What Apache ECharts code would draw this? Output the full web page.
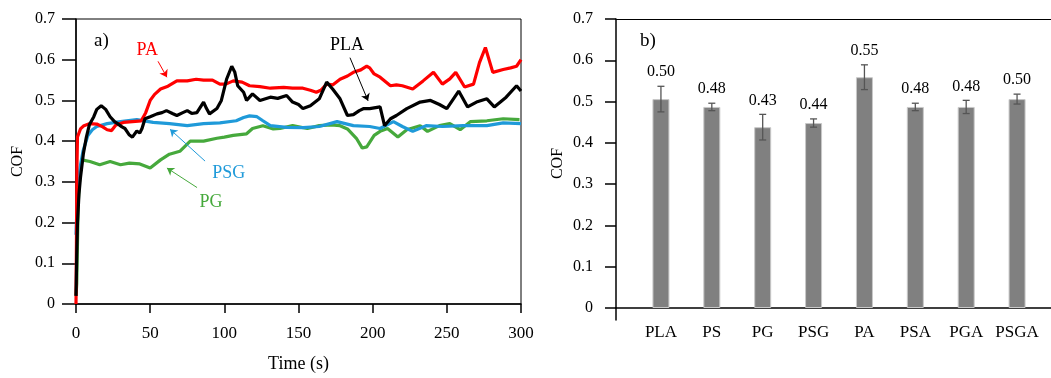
<!DOCTYPE html>
<html>
<head>
<meta charset="utf-8">
<script src="https://cdn.jsdelivr.net/npm/echarts/dist/echarts.min.js"></script>
<style>
  html, body { margin: 0; padding: 0; background: #fff; }
  #chart { width: 1051px; height: 378px; }
</style>
</head>
<body>
<div id="chart"></div>
<script>
// ---- a) coefficient of friction vs sliding time, [time (s), COF] ----
const cofPA = [
  [0,0],[0.3,0.15],[0.6,0.33],[1,0.41],[2,0.42],[3,0.43],[5,0.437],[9,0.443],[14,0.442],[18,0.435],
  [21,0.428],[24,0.426],[27,0.44],[32,0.446],[38,0.448],[44,0.45],[47,0.47],[50,0.5],[53,0.515],
  [57,0.528],[62,0.535],[68,0.548],[75,0.548],[81,0.552],[86,0.55],[92,0.55],[97,0.54],[101,0.54],
  [106,0.548],[112,0.545],[117,0.536],[124,0.534],[131,0.53],[140,0.532],[146,0.53],[153,0.53],
  [158,0.525],[162,0.52],[165,0.525],[169,0.54],[173,0.538],[178,0.552],[183,0.56],[187,0.569],
  [192,0.575],[196,0.584],[198,0.58],[201,0.565],[205,0.557],[212,0.536],[216,0.538],[220,0.536],
  [227,0.528],[234,0.548],[241,0.569],[247,0.54],[252,0.553],[256,0.569],[262,0.533],[268,0.54],
  [272,0.593],[276,0.63],[281,0.569],[288,0.576],[293,0.58],[297,0.584],[300,0.6]
];
const cofPLA = [
  [0,0.02],[0.5,0.12],[1,0.2],[2,0.27],[3,0.31],[5,0.37],[7,0.41],[9,0.44],[12,0.46],[14,0.478],
  [17,0.487],[20,0.478],[23,0.46],[26,0.448],[28,0.443],[31,0.435],[33,0.431],[36,0.415],[38,0.41],
  [41,0.425],[43,0.42],[44.5,0.431],[46.5,0.455],[50,0.46],[54.6,0.467],[58,0.47],[61,0.475],
  [65,0.468],[68,0.463],[72,0.47],[75,0.475],[78,0.468],[81.5,0.47],[86,0.496],[88,0.48],[90,0.467],
  [95,0.48],[98,0.5],[101.5,0.552],[105,0.584],[107,0.57],[109,0.536],[113,0.52],[115,0.5],
  [119,0.516],[124,0.5],[131,0.508],[136,0.505],[142,0.512],[146,0.496],[150,0.49],[153,0.48],
  [158,0.487],[164,0.504],[169,0.545],[173,0.528],[178,0.504],[183,0.463],[187,0.465],[191,0.475],
  [194,0.48],[198,0.48],[205,0.484],[208,0.438],[212,0.455],[216,0.463],[223,0.48],[232,0.496],
  [239,0.5],[245,0.49],[250,0.48],[258,0.523],[264,0.484],[270,0.496],[277,0.504],[282,0.484],
  [290,0.508],[297,0.536],[300,0.523]
];
const cofPSG = [
  [0,0.17],[0.5,0.22],[1,0.27],[2,0.31],[2.7,0.334],[4.7,0.375],[8,0.414],[11,0.428],[14,0.436],
  [21,0.443],[30,0.448],[41,0.453],[52,0.446],[63,0.443],[75,0.438],[86,0.443],[97,0.445],
  [108,0.45],[113,0.458],[117,0.462],[122,0.46],[126,0.45],[131,0.438],[142,0.434],[153,0.433],
  [164,0.436],[176,0.448],[187,0.438],[198,0.436],[205,0.431],[214,0.448],[220,0.436],[227,0.424],
  [236,0.438],[247,0.436],[261,0.438],[277,0.438],[288,0.445],[300,0.443]
];
const cofPG = [
  [0,0.02],[0.5,0.05],[1,0.15],[1.5,0.25],[2.5,0.31],[4,0.354],[9.4,0.35],[16,0.342],[23,0.35],
  [30,0.342],[36,0.346],[43,0.344],[50,0.334],[57,0.354],[63,0.368],[70,0.375],[77,0.4],[86,0.4],
  [95,0.407],[100,0.41],[106,0.414],[115,0.418],[119,0.431],[126,0.438],[133,0.43],[137.5,0.431],
  [146,0.438],[156,0.431],[164,0.438],[172,0.44],[178,0.438],[183,0.43],[189,0.407],[193,0.383],
  [196,0.386],[201,0.414],[205,0.424],[210,0.431],[217,0.41],[223,0.428],[232,0.438],[237,0.424],
  [245,0.438],[252,0.443],[259,0.428],[266,0.448],[277,0.45],[288,0.455],[299,0.453]
];

// ---- b) mean COF with standard deviation per material ----
const materials = ['PLA', 'PS', 'PG', 'PSG', 'PA', 'PSA', 'PGA', 'PSGA'];
const meanCOF   = [0.506, 0.487, 0.438, 0.448, 0.559, 0.487, 0.487, 0.506];
const sdCOF     = [0.031, 0.009, 0.031, 0.010, 0.030, 0.009, 0.016, 0.012];

const cofTicks = [0, 0.1, 0.2, 0.3, 0.4, 0.5, 0.6, 0.7];

const FONT = 'Liberation Serif';
const RED = '#ff0000', BLACK = '#000000', BLUE = '#1f9ad9', GREEN = '#46a93c';

// one curve plus its callout (arrow + name) placed in time/COF coordinates
function curve(name, data, color, arrowFrom, arrowTo, textAt) {
  return {
    type: 'line', name, data, xAxisIndex: 0, yAxisIndex: 0,
    showSymbol: false, symbol: 'none', silent: true, animation: false,
    lineStyle: { color, width: 3.2 },
    markLine: {
      silent: true, animation: false,
      symbol: ['none', 'arrow'], symbolSize: 7,
      lineStyle: { color, width: 1, type: 'solid' },
      label: { show: false },
      data: [[{ coord: arrowFrom }, { coord: arrowTo }]]
    },
    markPoint: {
      silent: true, animation: false,
      symbol: 'circle', symbolSize: 0,
      label: { show: true, position: 'inside', formatter: name, color,
               fontFamily: FONT, fontSize: 18 },
      data: [{ coord: textAt }]
    }
  };
}

const errData = materials.map((m, i) => [i, meanCOF[i], sdCOF[i]]);

const option = {
  animation: false,
  backgroundColor: '#fff',
  textStyle: { fontFamily: FONT },
  grid: [
    { left: 76, top: 19, width: 445, height: 289, show: true, borderColor: '#000', borderWidth: 1, backgroundColor: 'transparent' },
    { left: 635.5, top: 19, width: 407, height: 289 },
    { left: 616, top: 19, width: 435, height: 289 },
    { left: 616, top: 308, width: 10, height: 12 }
  ],
  xAxis: [
    { gridIndex: 0, type: 'value', min: 0, max: 300, interval: 50,
      name: 'Time (s)', nameLocation: 'middle', nameGap: 51,
      nameTextStyle: { fontFamily: FONT, fontSize: 18, color: '#000' },
      axisLine: { lineStyle: { color: '#000', width: 1.5 } },
      axisTick: { show: true, inside: false, length: 9, lineStyle: { color: '#000', width: 1.5 } },
      axisLabel: { fontFamily: FONT, fontSize: 17, color: '#000', margin: 21 },
      splitLine: { show: false } },
    { gridIndex: 1, type: 'category', data: materials,
      axisLine: { show: false }, axisTick: { show: false },
      axisLabel: { fontFamily: FONT, fontSize: 17, color: '#000', margin: 16, interval: 0 } },
    { gridIndex: 2, type: 'value', min: 0, max: 1, position: 'bottom',
      axisLine: { show: true, lineStyle: { color: '#000', width: 1.5 } },
      axisTick: { show: false }, axisLabel: { show: false }, splitLine: { show: false } },
    { gridIndex: 2, type: 'value', min: 0, max: 1, position: 'top',
      axisLine: { show: true, lineStyle: { color: '#000', width: 1.2 } },
      axisTick: { show: false }, axisLabel: { show: false }, splitLine: { show: false } },
    { gridIndex: 3, type: 'value', show: false, min: 0, max: 1 }
  ],
  yAxis: [
    { gridIndex: 0, type: 'value', min: 0, max: 0.7, interval: 0.1,
      name: 'COF', nameLocation: 'middle', nameGap: 50, nameRotate: 90,
      nameTextStyle: { fontFamily: FONT, fontSize: 16, color: '#000' },
      axisLine: { show: true, lineStyle: { color: '#000', width: 1.5 } },
      axisTick: { show: true, inside: false, length: 14, lineStyle: { color: '#000', width: 1.5 } },
      axisLabel: { fontFamily: FONT, fontSize: 16, color: '#000', margin: 21,
                   formatter: v => cofTicks.includes(+v.toFixed(1)) ? (v === 0 ? '0' : v.toFixed(1)) : '' },
      splitLine: { show: false } },
    { gridIndex: 1, type: 'value', min: 0, max: 0.7, show: false },
    { gridIndex: 2, type: 'value', min: 0, max: 0.7, interval: 0.1,
      name: 'COF', nameLocation: 'middle', nameGap: 50, nameRotate: 90,
      nameTextStyle: { fontFamily: FONT, fontSize: 16, color: '#000' },
      axisLine: { show: true, lineStyle: { color: '#000', width: 1.5 } },
      axisTick: { show: true, inside: false, length: 11, lineStyle: { color: '#000', width: 1.5 } },
      axisLabel: { fontFamily: FONT, fontSize: 16, color: '#000', margin: 23,
                   formatter: v => (v === 0 ? '0' : v.toFixed(1)) },
      splitLine: { show: false } },
    { gridIndex: 3, type: 'value', min: 0, max: 1,
      axisLine: { show: true, lineStyle: { color: '#000', width: 1.5 } },
      axisTick: { show: false }, axisLabel: { show: false }, splitLine: { show: false } }
  ],
  graphic: [
    { type: 'text', left: 94, top: 32, style: { text: 'a)', font: '19px "Liberation Serif"', fill: '#000' } },
    { type: 'text', left: 640, top: 32, style: { text: 'b)', font: '19px "Liberation Serif"', fill: '#000' } }
  ],
  series: [
    curve('PG',  cofPG,  GREEN, [81.6, 0.286], [61.3, 0.334], [91, 0.249]),
    curve('PSG', cofPSG, BLUE,  [87, 0.351],   [63.4, 0.429], [103, 0.322]),
    curve('PA',  cofPA,  RED,   [55.3, 0.596], [61.3, 0.557], [48, 0.622]),
    curve('PLA', cofPLA, BLACK, [184.7, 0.605],[196.9, 0.499],[182.7, 0.635]),
    { type: 'bar', xAxisIndex: 1, yAxisIndex: 1, data: meanCOF, barWidth: 17, silent: true,
      itemStyle: { color: '#808080', borderColor: '#c8c8c8', borderWidth: 1 } },
    { type: 'custom', xAxisIndex: 1, yAxisIndex: 1, data: errData, silent: true, z: 5,
      renderItem: function (params, api) {
        const i = api.value(0), m = api.value(1), s = api.value(2);
        const hi = api.coord([i, m + s]), lo = api.coord([i, m - s]);
        const cap = 3.5;
        const stroke = { stroke: '#555', lineWidth: 1.3 };
        const label = (Math.floor(m * 100 + 1e-9) / 100).toFixed(2);
        return { type: 'group', children: [
          { type: 'line', shape: { x1: hi[0], y1: hi[1], x2: lo[0], y2: lo[1] }, style: stroke },
          { type: 'line', shape: { x1: hi[0] - cap, y1: hi[1], x2: hi[0] + cap, y2: hi[1] }, style: stroke },
          { type: 'line', shape: { x1: lo[0] - cap, y1: lo[1], x2: lo[0] + cap, y2: lo[1] }, style: stroke },
          { type: 'text', x: hi[0], y: hi[1] - 6,
            style: { text: label, fill: '#000', font: '16px "Liberation Serif"',
                     textAlign: 'center', textVerticalAlign: 'bottom' } }
        ] };
      } }
  ]
};

const chart = echarts.init(document.getElementById('chart'), null, { renderer: 'canvas' });
chart.setOption(option);
</script>
</body>
</html>
